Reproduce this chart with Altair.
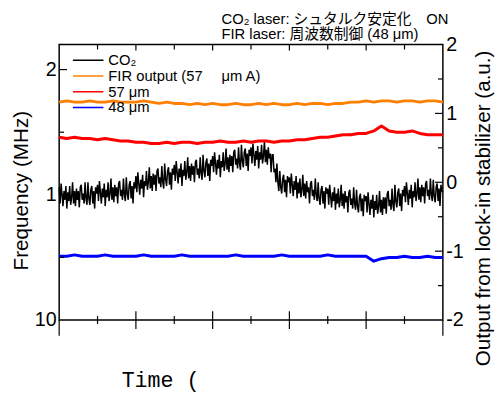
import altair as alt
import numpy as np
import pandas as pd

# ---------------- data ----------------
series_names = ["CO₂", "FIR output (57\u3000 μm A)", "57 μm", "48 μm"]
series_colors = ["#000000", "#FF8000", "#FF0000", "#0000FF"]

co2_time = list(np.arange(0, 100.01, 0.25))
co2_freq = [
    1.06, 0.93, 1.09, 1.00, 0.91, 1.03, 0.96, 1.07, 0.89, 1.02,
    0.95, 1.07, 0.92, 0.98, 1.10, 0.93, 1.03, 0.91, 1.05, 0.96,
    1.03, 0.90, 1.06, 1.08, 0.96, 1.01, 0.93, 1.10, 0.97, 0.92,
    1.10, 0.97, 0.92, 1.04, 1.07, 0.93, 1.03, 0.89, 1.06, 1.01,
    1.08, 0.95, 1.11, 1.02, 0.93, 1.05, 0.98, 1.09, 0.91, 1.04,
    0.98, 1.10, 0.95, 1.01, 1.13, 0.96, 1.06, 0.94, 1.08, 0.99,
    1.06, 0.93, 1.09, 1.11, 0.99, 1.04, 0.96, 1.13, 1.00, 0.95,
    1.14, 1.01, 0.96, 1.08, 1.11, 0.97, 1.07, 0.93, 1.10, 1.05,
    1.15, 1.02, 1.18, 1.09, 1.00, 1.12, 1.05, 1.16, 0.98, 1.11,
    1.07, 1.19, 1.04, 1.10, 1.22, 1.05, 1.15, 1.03, 1.17, 1.08,
    1.16, 1.03, 1.19, 1.21, 1.09, 1.14, 1.06, 1.23, 1.10, 1.05,
    1.25, 1.12, 1.07, 1.19, 1.22, 1.08, 1.18, 1.04, 1.21, 1.16,
    1.24, 1.11, 1.27, 1.18, 1.09, 1.21, 1.14, 1.25, 1.07, 1.20,
    1.15, 1.27, 1.12, 1.18, 1.30, 1.13, 1.23, 1.11, 1.25, 1.16,
    1.23, 1.10, 1.26, 1.28, 1.16, 1.21, 1.13, 1.30, 1.17, 1.12,
    1.32, 1.19, 1.14, 1.26, 1.29, 1.15, 1.25, 1.11, 1.28, 1.23,
    1.31, 1.18, 1.34, 1.25, 1.16, 1.28, 1.21, 1.32, 1.14, 1.27,
    1.22, 1.34, 1.19, 1.25, 1.37, 1.20, 1.30, 1.18, 1.32, 1.23,
    1.31, 1.18, 1.34, 1.36, 1.24, 1.29, 1.21, 1.38, 1.25, 1.20,
    1.40, 1.27, 1.22, 1.34, 1.37, 1.23, 1.33, 1.19, 1.36, 1.31,
    1.38, 1.25, 1.41, 1.32, 1.23, 1.35, 1.28, 1.39, 1.21, 1.34,
    1.28, 1.40, 1.25, 1.31, 1.43, 1.26, 1.36, 1.24, 1.38, 1.29,
    1.33, 1.18, 1.32, 1.32, 1.18, 1.21, 1.10, 1.25, 1.10, 1.03,
    1.19, 1.06, 1.01, 1.13, 1.16, 1.02, 1.12, 0.98, 1.15, 1.10,
    1.14, 1.01, 1.17, 1.08, 0.99, 1.11, 1.04, 1.15, 0.97, 1.10,
    1.01, 1.13, 0.98, 1.04, 1.16, 0.99, 1.09, 0.97, 1.11, 1.02,
    1.06, 0.93, 1.09, 1.11, 0.99, 1.04, 0.96, 1.13, 1.00, 0.95,
    1.10, 0.97, 0.92, 1.04, 1.07, 0.93, 1.03, 0.89, 1.06, 1.01,
    1.05, 0.92, 1.08, 0.99, 0.90, 1.02, 0.95, 1.06, 0.88, 1.01,
    0.93, 1.05, 0.90, 0.96, 1.08, 0.91, 1.01, 0.89, 1.03, 0.94,
    0.99, 0.86, 1.02, 1.04, 0.92, 0.97, 0.89, 1.06, 0.93, 0.88,
    1.04, 0.91, 0.86, 0.98, 1.01, 0.87, 0.97, 0.83, 1.00, 0.95,
    0.99, 0.86, 1.02, 0.93, 0.84, 0.96, 0.89, 1.00, 0.82, 0.95,
    0.88, 1.00, 0.85, 0.91, 1.03, 0.86, 0.96, 0.84, 0.98, 0.89,
    0.98, 0.85, 1.01, 1.03, 0.91, 0.96, 0.88, 1.05, 0.92, 0.87,
    1.08, 0.95, 0.90, 1.02, 1.05, 0.91, 1.01, 0.87, 1.04, 0.99,
    1.07, 0.94, 1.10, 1.01, 0.92, 1.04, 0.97, 1.08, 0.90, 1.03,
    0.98, 1.10, 0.95, 1.01, 1.13, 0.96, 1.06, 0.94, 1.08, 0.99,
    1.06, 0.93, 1.09, 1.11, 0.99, 1.04, 0.96, 1.13, 1.00, 0.95,
    1.12, 0.99, 0.94, 1.06, 1.09, 0.95, 1.05, 0.91, 1.08, 1.03,
    1.02,
]

slow_time = list(np.arange(0, 101, 2))
fir_output = [
    1.74, 1.75, 1.74, 1.74, 1.75, 1.74, 1.74, 1.75, 1.74, 1.74,
    1.74, 1.75, 1.74, 1.73, 1.74, 1.73, 1.73, 1.72, 1.73, 1.72,
    1.73, 1.72, 1.72, 1.73, 1.72, 1.72, 1.73, 1.72, 1.73, 1.72,
    1.72, 1.73, 1.72, 1.73, 1.73, 1.72, 1.73, 1.73, 1.74, 1.74,
    1.75, 1.74, 1.75, 1.75, 1.74, 1.75, 1.75, 1.74, 1.75, 1.75, 1.74,
]
fir_57 = [
    1.46, 1.45, 1.46, 1.45, 1.45, 1.44, 1.45, 1.44, 1.43, 1.43,
    1.42, 1.42, 1.41, 1.41, 1.42, 1.41, 1.42, 1.42, 1.41, 1.42,
    1.42, 1.43, 1.42, 1.42, 1.43, 1.42, 1.43, 1.43, 1.42, 1.43,
    1.43, 1.44, 1.44, 1.45, 1.46, 1.46, 1.47, 1.48, 1.48, 1.49,
    1.49, 1.51, 1.55, 1.51, 1.50, 1.50, 1.51, 1.49, 1.48, 1.48, 1.48,
]
fir_48 = [
    0.51, 0.51, 0.52, 0.51, 0.51, 0.51, 0.52, 0.51, 0.51, 0.51,
    0.51, 0.52, 0.51, 0.51, 0.51, 0.51, 0.52, 0.51, 0.51, 0.51,
    0.51, 0.51, 0.51, 0.52, 0.51, 0.51, 0.51, 0.51, 0.51, 0.52,
    0.51, 0.51, 0.51, 0.51, 0.51, 0.52, 0.51, 0.51, 0.51, 0.51,
    0.51, 0.47, 0.49, 0.50, 0.50, 0.51, 0.50, 0.50, 0.51, 0.50, 0.50,
]

x_major = [20, 40, 60, 80]
x_minor = [10, 30, 50, 70, 90]
x_edges = [0, 100]
left_major = [1, 2]
left_minor = [0.5, 1.5]
left_labels = [0, 1, 2]
right_labels = [-2, -1, 0, 1, 2]
right_major = [-1, 0, 1]
right_minor = [-1.5, -0.5, 0.5, 1.5]

title_line1 = "CO₂ laser: シュタルク安定化\u3000ON"
title_line2 = "FIR laser: 周波数制御 (48 μm)"

# ---------------- tables ----------------
co2_df = pd.DataFrame({"t": co2_time, "f": co2_freq, "s": series_names[0]})
frames = []
for name, vals in zip(series_names[1:], [fir_output, fir_57, fir_48]):
    frames.append(pd.DataFrame({"t": slow_time, "f": vals, "s": name}))
fir_df = pd.concat(frames, ignore_index=True)

FONT = "Liberation Sans, Noto Sans CJK JP, sans-serif"

xscale = alt.Scale(domain=[0, 100], nice=False, zero=False)
yscale = alt.Scale(domain=[0, 2.2], nice=False, zero=False)
rscale = alt.Scale(domain=[-2, 2], nice=False, zero=False)
cscale = alt.Scale(domain=series_names, range=series_colors)

xaxis = alt.Axis(labels=False, ticks=False, domain=False, grid=False,
                 title="Time (", titleFont="Liberation Mono", titleFontSize=22,
                 titleFontWeight="normal", titleX=63, titleY=68,
                 titleAlign="left", titleBaseline="alphabetic")
yaxis = alt.Axis(values=left_labels,
                 labelExpr="datum.value == 0 ? '10' : datum.label",
                 ticks=False, domain=False, grid=False, labelFontSize=20,
                 labelFont=FONT, labelPadding=3, labelFlush=False, labelOverlap=False,
                 title="Frequency (MHz)", titleFont=FONT, titleFontSize=21,
                 titleFontWeight="normal", titleAngle=270, titleX=-38, titleY=148,
                 titleAlign="center", titleBaseline="middle")
raxis = alt.Axis(orient="right", values=right_labels,
                 labelExpr="'' + datum.value",
                 ticks=False, domain=False, grid=False, labelFontSize=20,
                 labelFont=FONT, labelPadding=3, labelFlush=False, labelOverlap=False,
                 title="Output from lock-in stabilizer (a.u.)", titleFont=FONT,
                 titleFontSize=21, titleFontWeight="normal", titleAngle=270,
                 titleX=41, titleY=166, titleAlign="center", titleBaseline="middle")

legend = alt.Legend(orient="none", legendX=13, legendY=8, title=None,
                    symbolType="stroke", symbolSize=961, symbolStrokeWidth=1.5,
                    clipHeight=16, rowPadding=0, padding=0, labelFont=FONT,
                    labelFontSize=15, labelOffset=4, labelLimit=400, labelColor="black")

X = lambda f: alt.X(f, scale=xscale, axis=xaxis)
Y = lambda f: alt.Y(f, scale=yscale, axis=yaxis)

co2_line = alt.Chart(co2_df).mark_line(strokeWidth=1.5).encode(
    x=X("t:Q"), y=Y("f:Q"),
    color=alt.Color("s:N", scale=cscale, legend=legend),
)
fir_lines = alt.Chart(fir_df).mark_line(strokeWidth=3, strokeJoin="round").encode(
    x=X("t:Q"), y=Y("f:Q"),
    color=alt.Color("s:N", scale=cscale, legend=legend),
)


def xticks(vals, y1, y2):
    return alt.Chart(pd.DataFrame({"v": vals})).mark_rule(color="black", strokeWidth=1.2).encode(
        x=X("v:Q"), y=alt.value(y1), y2=alt.value(y2))


def lticks(vals, x1, x2):
    return alt.Chart(pd.DataFrame({"v": vals})).mark_rule(color="black", strokeWidth=1.2).encode(
        y=Y("v:Q"), x=alt.value(x1), x2=alt.value(x2))


def rticks(vals, x1, x2):
    return alt.Chart(pd.DataFrame({"v": vals})).mark_rule(color="black", strokeWidth=1.2).encode(
        y=alt.Y("v:Q", scale=rscale, axis=raxis), x=alt.value(x1), x2=alt.value(x2))


left = alt.layer(
    co2_line, fir_lines,
    xticks(x_major, 271, 289), xticks(x_minor, 276, 284), xticks(x_edges, 280, 296),
    xticks(x_major, 0, 6), xticks(x_minor, 0, 5),
    lticks(left_major, 0, 8), lticks(left_minor, 0, 5),
)
right = alt.layer(rticks(right_major, 382, 390), rticks(right_minor, 385, 390))

chart = alt.layer(left, right).resolve_scale(y="independent").properties(
    width=390, height=280,
    autosize=alt.AutoSizeParams(type="none"),
    padding={"left": 52, "top": 34, "right": 54, "bottom": 70},
    title=alt.TitleParams(text=title_line1, subtitle=title_line2, anchor="start",
                          frame="group", dx=165, dy=10, offset=3, font=FONT,
                          subtitleFont=FONT, fontSize=15, subtitleFontSize=15,
                          fontWeight="normal", color="black", subtitleColor="black",
                          subtitlePadding=0),
).configure_view(stroke="black", strokeWidth=1.5).configure_axis(
    labelColor="black", titleColor="black")

chart.save("out.html", embed_options={"renderer": "svg", "actions": False})
